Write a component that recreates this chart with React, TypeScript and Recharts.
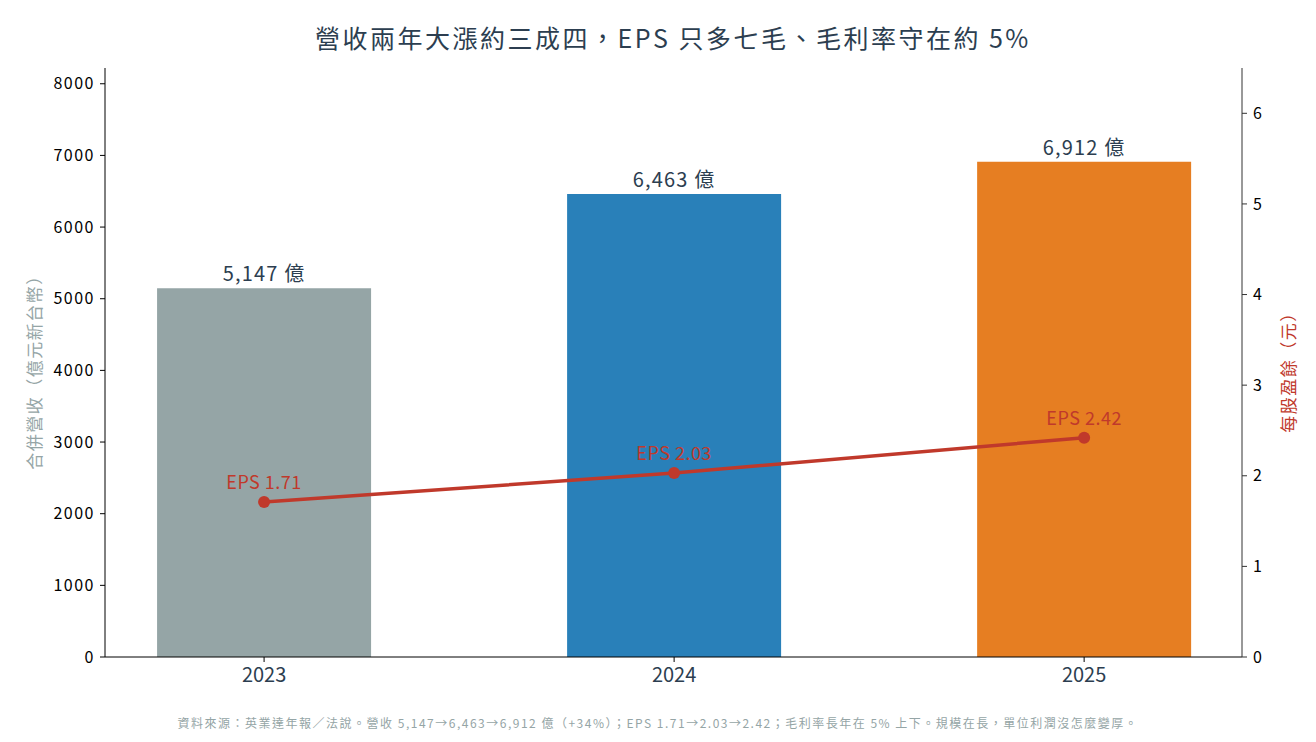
import React from "react";
import {
  ComposedChart,
  Bar,
  Line,
  XAxis,
  YAxis,
  LabelList,
  Cell,
} from "recharts";

const years = ["2023", "2024", "2025"];
const revenue = [5147, 6463, 6912];
const eps = [1.71, 2.03, 2.42];
const barColors = ["#95a5a6", "#2980b9", "#e67e22"];

const data = years.map((y, i) => ({ x: i, year: y, revenue: revenue[i], eps: eps[i] }));

const FONT = "'Noto Sans CJK TC', 'Noto Sans', sans-serif";
const NAVY = "#2c3e50";
const RED = "#c0392b";

export default function App() {
  return (
    <div
      style={{
        position: "absolute",
        left: 0,
        top: 0,
        width: 1316,
        height: 742,
        background: "#fff",
        fontFamily: FONT,
      }}
    >
      <div
        style={{
          position: "absolute",
          top: 19,
          left: 0,
          width: 1346,
          textAlign: "center",
          fontSize: 25,
          letterSpacing: 2.5,
          color: NAVY,
          fontWeight: 400,
        }}
      >
        營收兩年大漲約三成四，EPS 只多七毛、毛利率守在約 5%
      </div>

      <ComposedChart
        width={1316}
        height={742}
        data={data}
        margin={{ top: 68, right: 0, bottom: 45, left: 0 }}
        style={{ fontFamily: FONT }}
      >
        <XAxis
          dataKey="x"
          type="number"
          domain={[-0.388, 2.385]}
          ticks={[0, 1, 2]}
          tickFormatter={(i: number) => years[i]}
          allowDataOverflow
          height={40}
          stroke="#000"
          tick={{ fill: NAVY, fontSize: 20 }}
          tickSize={5}
          tickMargin={6}
        />
        <YAxis
          yAxisId="rev"
          width={105}
          domain={[0, 8220]}
          ticks={[0, 1000, 2000, 3000, 4000, 5000, 6000, 7000, 8000]}
          allowDataOverflow
          stroke="#000"
          tick={{ fill: "#000", fontSize: 16, letterSpacing: 1.5 }}
          tickSize={5}
          tickMargin={5}
        />
        <YAxis
          yAxisId="eps"
          orientation="right"
          width={74}
          domain={[0, 6.5]}
          ticks={[0, 1, 2, 3, 4, 5, 6]}
          allowDataOverflow
          stroke="#333"
          tick={{ fill: "#000", fontSize: 16 }}
          tickSize={5}
          tickMargin={6}
        />
        <Bar yAxisId="rev" dataKey="revenue" barSize={214} isAnimationActive={false}>
          {data.map((d, i) => (
            <Cell key={d.year} fill={barColors[i]} />
          ))}
          <LabelList
            dataKey="revenue"
            position="top"
            offset={7}
            fill={NAVY}
            fontSize={20}
            letterSpacing={1.2}
            formatter={(v: number) => `${v.toLocaleString("en-US")} 億`}
          />
        </Bar>
        <Line
          yAxisId="eps"
          dataKey="eps"
          stroke={RED}
          strokeWidth={3.5}
          dot={{ r: 6, fill: RED, stroke: RED, strokeWidth: 0 }}
          isAnimationActive={false}
        >
          <LabelList
            dataKey="eps"
            position="top"
            offset={13}
            fill={RED}
            fontSize={18}
            letterSpacing={0.5}
            formatter={(v: number) => `EPS ${v.toFixed(2)}`}
          />
        </Line>
      </ComposedChart>

      <div
        style={{
          position: "absolute",
          left: 33,
          top: 368,
          transform: "translate(-50%, -50%) rotate(-90deg)",
          whiteSpace: "nowrap",
          fontSize: 17,
          letterSpacing: 1.5,
          color: "#95a5a6",
        }}
      >
        合併營收（億元新台幣）
      </div>
      <div
        style={{
          position: "absolute",
          left: 1287,
          top: 368,
          transform: "translate(-50%, -50%) rotate(-90deg)",
          whiteSpace: "nowrap",
          fontSize: 17,
          letterSpacing: 1.5,
          color: RED,
        }}
      >
        每股盈餘（元）
      </div>

      <div
        style={{
          position: "absolute",
          top: 714,
          left: 0,
          width: 1316,
          textAlign: "center",
          fontSize: 12,
          letterSpacing: 1.5,
          color: "#95a5a6",
        }}
      >
        資料來源：英業達年報／法說。營收 5,147→6,463→6,912 億（+34%）；EPS 1.71→2.03→2.42；毛利率長年在 5% 上下。規模在長，單位利潤沒怎麼變厚。
      </div>
    </div>
  );
}
